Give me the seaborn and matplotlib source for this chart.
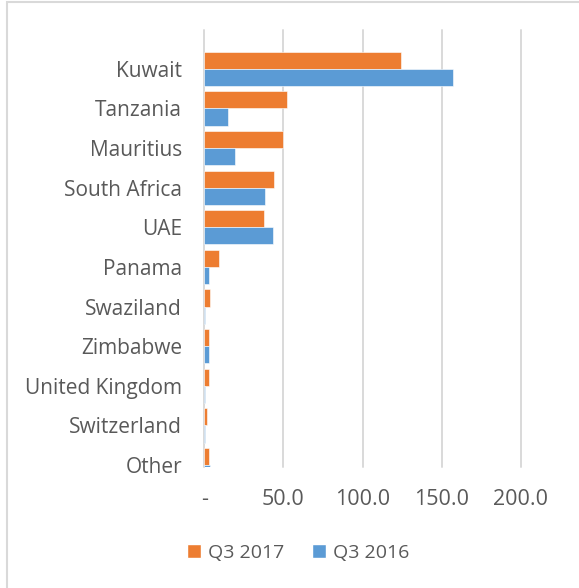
import pandas as pd
import matplotlib.pyplot as plt
import seaborn as sns
from matplotlib.patches import Patch, Rectangle
from matplotlib.ticker import FuncFormatter, MultipleLocator

sns.set_theme(style="white")
plt.rcParams['font.family'] = ['Open Sans', 'DejaVu Sans']

# data
countries = ["Kuwait", "Tanzania", "Mauritius", "South Africa", "UAE", "Panama",
             "Swaziland", "Zimbabwe", "United Kingdom", "Switzerland", "Other"]
q3_2017 = [124.4, 52.2, 49.7, 43.8, 37.7, 9.3, 3.4, 3.0, 3.0, 1.7, 3.2]
q3_2016 = [156.8, 15.2, 19.2, 38.3, 43.2, 3.0, 0.2, 3.0, 0.2, 0.4, 3.8]
series = ["Q3 2017", "Q3 2016"]
colors = ["#ED7D31", "#5B9BD5"]
text_color = "#595959"
grid_color = "#D9D9D9"

df = pd.DataFrame({
    "country": countries * 2,
    "value": q3_2017 + q3_2016,
    "series": [series[0]] * len(countries) + [series[1]] * len(countries),
})

fig = plt.figure(figsize=(5.79, 5.88), dpi=100)
ax = fig.add_axes([204.3 / 579, 1 - 467 / 588, (521 - 204.3) / 579, (467 - 30) / 588])

sns.barplot(data=df, y="country", x="value", hue="series", hue_order=series,
            palette=colors, saturation=1, orient="h", width=0.865, ax=ax, legend=False,
            edgecolor="white", linewidth=0.4, zorder=3)

ax.set_xlim(0, 200)
ax.set_ylim(10.05, -0.98)
ax.xaxis.set_major_locator(MultipleLocator(50))
ax.xaxis.set_major_formatter(FuncFormatter(lambda v, p: "-" if v == 0 else f"{v:.1f}"))
ax.grid(axis="x", color=grid_color, linewidth=1.4, zorder=0)
for gl in ax.xaxis.get_gridlines():
    gl.set_clip_on(False)
ax.grid(axis="y", visible=False)
for s in ["top", "right", "bottom", "left"]:
    ax.spines[s].set_visible(False)

ax.set_xlabel("")
ax.set_ylabel("")
ax.tick_params(axis="x", length=0, pad=16, labelsize=15.5, labelcolor=text_color)
ax.tick_params(axis="y", length=0, pad=16, labelsize=15, labelcolor=text_color)

handles = [Patch(facecolor=c, label=s) for c, s in zip(colors, series)]
leg = fig.legend(handles=handles, loc="center", bbox_to_anchor=(298 / 579, 1 - 553 / 588),
                 ncol=2, frameon=False, fontsize=14, handlelength=0.75, handleheight=0.75,
                 handletextpad=0.35, columnspacing=1.4)
for t in leg.get_texts():
    t.set_color(text_color)

# chart border (only left and top edges are in frame)
fig.patches.append(Rectangle((7 / 579, -0.5), 2, 1.5 - 1.5 / 588, transform=fig.transFigure,
                             fill=False, edgecolor=grid_color, linewidth=1.5))

fig.savefig("out.png", dpi=100, facecolor="white")
